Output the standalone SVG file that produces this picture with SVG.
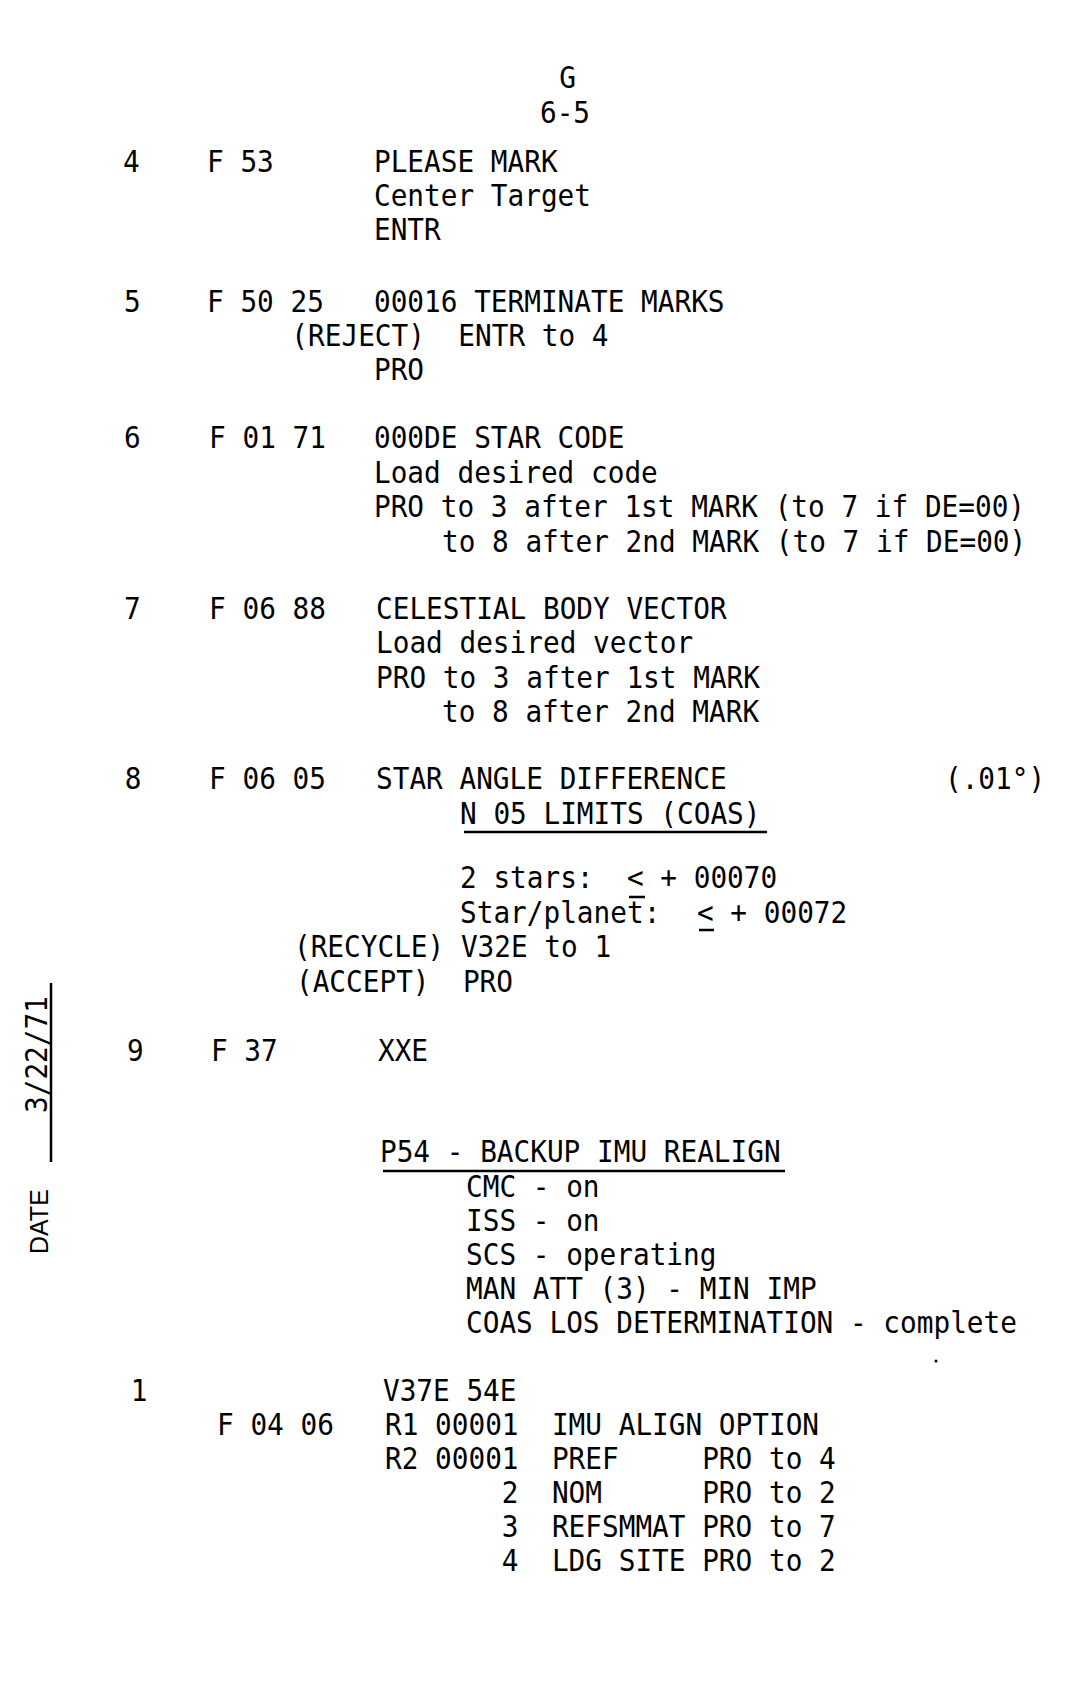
<svg xmlns="http://www.w3.org/2000/svg" width="1086" height="1700" viewBox="0 0 1086 1700" xml:space="preserve">
<style>
.t{font-family:"DejaVu Sans Mono","Liberation Mono",monospace;font-size:30px;fill:#000;white-space:pre}
.d{font-family:"Liberation Sans",Arial,sans-serif;font-size:25px;fill:#000}
.u{stroke:#000;stroke-width:2.5;fill:none}
</style>
<rect width="1086" height="1700" fill="#fff"/>
<g id="margin">
<line class="u" x1="51" y1="983" x2="51" y2="1162" stroke-width="2"/>
<text class="t" transform="translate(47,1113) rotate(-90) scale(0.925,1)">3/22/71</text>
<text class="d" transform="translate(48,1254) rotate(-90)">DATE</text>
</g>
<g id="rules">
<line class="u" x1="464" y1="832" x2="767" y2="832"/>
<line class="u" x1="629" y1="897" x2="645" y2="897" stroke-width="2"/>
<line class="u" x1="699" y1="930" x2="714" y2="930" stroke-width="3"/>
<line class="u" x1="383" y1="1171" x2="785" y2="1171"/>
<circle cx="936" cy="1361" r="1.5" fill="#000"/>
</g>
<g transform="scale(0.925,1)">
<g id="header">
<text class="t" x="613.6" y="88.5" text-anchor="middle">G</text>
<text class="t" x="610.8" y="123.5" text-anchor="middle">6-5</text>
</g>
<g id="step4">
<text class="t" x="133" y="172">4</text>
<text class="t" x="223.8" y="172">F 53</text>
<text class="t" x="404.3" y="172">PLEASE MARK</text>
<text class="t" x="404.3" y="206">Center Target</text>
<text class="t" x="404.3" y="240">ENTR</text>
</g>
<g id="step5">
<text class="t" x="134.1" y="312">5</text>
<text class="t" x="223.8" y="312">F 50 25</text>
<text class="t" x="404.3" y="312">00016 TERMINATE MARKS</text>
<text class="t" x="315" y="346">(REJECT)  ENTR to 4</text>
<text class="t" x="404.3" y="380">PRO</text>
</g>
<g id="step6">
<text class="t" x="134.1" y="448.5">6</text>
<text class="t" x="226" y="448.5">F 01 71</text>
<text class="t" x="404.3" y="448.5">000DE STAR CODE</text>
<text class="t" x="404.3" y="483">Load desired code</text>
<text class="t" x="404.3" y="517.5">PRO to 3 after 1st MARK (to 7 if DE=00)</text>
<text class="t" x="477.8" y="552">to 8 after 2nd MARK (to 7 if DE=00)</text>
</g>
<g id="step7">
<text class="t" x="134.1" y="619">7</text>
<text class="t" x="226" y="619">F 06 88</text>
<text class="t" x="406.5" y="619">CELESTIAL BODY VECTOR</text>
<text class="t" x="406.5" y="653.5">Load desired vector</text>
<text class="t" x="406.5" y="688">PRO to 3 after 1st MARK</text>
<text class="t" x="477.8" y="722.5">to 8 after 2nd MARK</text>
</g>
<g id="step8">
<text class="t" x="135" y="789.5">8</text>
<text class="t" x="226" y="789.5">F 06 05</text>
<text class="t" x="406.5" y="789.5">STAR ANGLE DIFFERENCE</text>
<text class="t" x="1021.6" y="789.5">(.01°)</text>
<text class="t" x="497.3" y="824">N 05 LIMITS (COAS)</text>
<text class="t" x="497.3" y="888">2 stars:  &lt; + 00070</text>
<text class="t" x="497.3" y="923">Star/planet:</text>
<text class="t" x="753.5" y="923">&lt; + 00072</text>
<text class="t" x="317.8" y="957.5">(RECYCLE) V32E to 1</text>
<text class="t" x="320" y="992">(ACCEPT)  PRO</text>
</g>
<g id="step9">
<text class="t" x="137.3" y="1061">9</text>
<text class="t" x="228.1" y="1061">F 37</text>
<text class="t" x="408.6" y="1061">XXE</text>
</g>
<g id="p54">
<text class="t" x="410.8" y="1162">P54 - BACKUP IMU REALIGN</text>
<text class="t" x="503.8" y="1197">CMC - on</text>
<text class="t" x="503.8" y="1231">ISS - on</text>
<text class="t" x="503.8" y="1265">SCS - operating</text>
<text class="t" x="503.8" y="1299">MAN ATT (3) - MIN IMP</text>
<text class="t" x="503.8" y="1333">COAS LOS DETERMINATION - complete</text>
</g>
<g id="step1">
<text class="t" x="141.3" y="1401">1</text>
<text class="t" x="414" y="1401">V37E 54E</text>
<text class="t" x="234.6" y="1435">F 04 06</text>
<text class="t" x="416.2" y="1435">R1 00001  IMU ALIGN OPTION</text>
<text class="t" x="416.2" y="1469">R2 00001  PREF     PRO to 4</text>
<text class="t" x="416.2" y="1503">       2  NOM      PRO to 2</text>
<text class="t" x="416.2" y="1537">       3  REFSMMAT PRO to 7</text>
<text class="t" x="416.2" y="1571">       4  LDG SITE PRO to 2</text>
</g>
</g>
</svg>
